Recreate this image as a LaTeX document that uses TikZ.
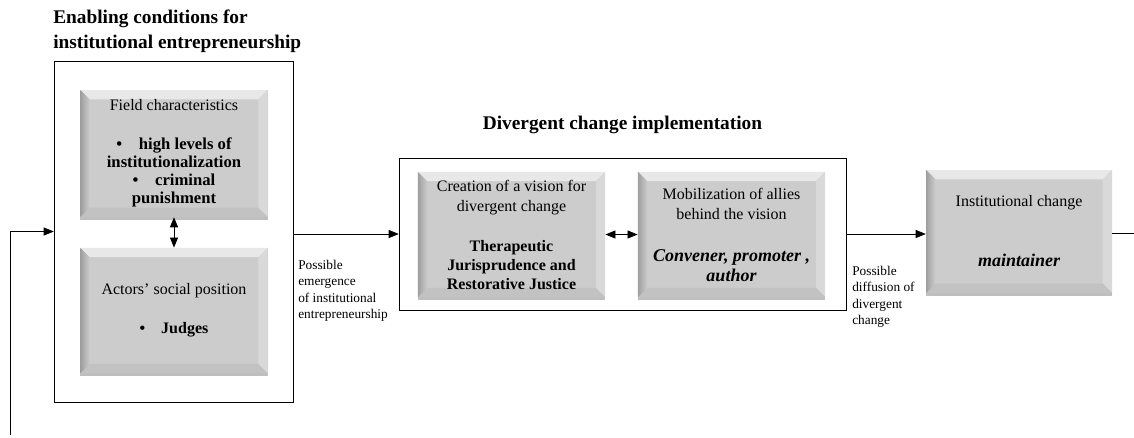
\documentclass[tikz,border=0pt]{standalone}
\usepackage{fontspec}
\setmainfont{Liberation Serif}
\usetikzlibrary{arrows.meta,shadows}

\colorlet{bevface}{black!20}
\colorlet{bevtop}{black!9}
\colorlet{bevright}{black!15}
\colorlet{bevbottom}{black!24}
\newcommand{\bolditfont}{\bfseries\itshape\fontsize{13.5}{15}\selectfont}

\begin{document}
\begin{tikzpicture}[
		x=0.75pt, y=-0.75pt,
		thin,
		>={Triangle[length=7.5pt,width=6pt]},
		outerbox/.style={draw,inner sep=0pt},
		bevel/.style={fill=bevface, minimum width=140.5pt, minimum height=94pt,
			inner sep=2pt, align=center, font=\fontsize{12}{15}\selectfont,
			drop shadow={shadow xshift=0pt,shadow yshift=-2pt,opacity=0.25,fill=black},
			path picture={
				\coordinate (pnw) at (path picture bounding box.north west);
				\coordinate (pse) at (path picture bounding box.south east);
				\fill[bevtop] (pnw) -- (pnw-|pse) -- ([shift={(-7pt,-7pt)}]pnw-|pse)
					-- ([shift={(7pt,-7pt)}]pnw) -- cycle;
				\fill[bevright] (pnw-|pse) -- (pse) -- ([shift={(-7pt,7pt)}]pse)
					-- ([shift={(-7pt,-7pt)}]pnw-|pse) -- cycle;
				\fill[bevbottom] (pse) -- (pse-|pnw) -- ([shift={(7pt,7pt)}]pse-|pnw)
					-- ([shift={(-7pt,7pt)}]pse) -- cycle;
				\shade[left color=black!38, right color=bevface] (pnw) -- ([shift={(7pt,-7pt)}]pnw)
					-- ([shift={(7pt,7pt)}]pse-|pnw) -- (pse-|pnw) -- cycle;
			}},
		heading/.style={font=\bfseries\fontsize{14.5}{18.75}\selectfont, inner sep=0pt},
		note/.style={font=\fontsize{10}{12.2}\selectfont, align=left, anchor=north west, inner sep=0pt}
	]
		\useasboundingbox (0,0) rectangle (1134,437);

		% Headings
		\node[heading, align=left, anchor=north west] (enabhead) at (53,10)
			{Enabling conditions for\\institutional entrepreneurship};
		\node[heading] (divhead) at (622.5,125) {Divergent change implementation};

		% Outer boxes
		\node[outerbox, minimum width=179.25pt, minimum height=255.75pt] (enabling) at (173.5,231.5) {};
		\node[outerbox, minimum width=335.25pt, minimum height=114pt] (divergent) at (622.5,234) {};

		% Bevelled boxes
		\node[bevel, minimum height=95.25pt] (fieldchar) at (174,153.5)
			{Field characteristics\\[14.25pt]
			{\bfseries\fontsize{12.5}{13.5}\selectfont \textbullet\quad high levels of}\\[-1.5pt]
			{\bfseries\fontsize{12.5}{13.5}\selectfont institutionalization}\\[-1.5pt]
			{\bfseries\fontsize{12.5}{13.5}\selectfont \textbullet\quad criminal}\\[-1.5pt]
			{\bfseries\fontsize{12.5}{13.5}\selectfont punishment}};
		\node[bevel] (actors) at (174,310.5)
			{Actors’ social position\\[14.25pt]
			{\bfseries \textbullet\quad Judges}};
		\node[bevel] (vision) at (511.5,234.5)
			{Creation of a vision for\\divergent change\\[15pt]
			{\bfseries Therapeutic}\\[-0.75pt]
			{\bfseries Jurisprudence and}\\[-0.75pt]
			{\bfseries Restorative Justice}};
		\node[bevel] (allies) at (731.5,234.5)
			{Mobilization of allies\\behind the vision\\[16.5pt]
			{\bolditfont Convener, promoter ,}\\
			{\bolditfont author}};
		\node[bevel, minimum width=139.5pt, minimum height=92.25pt] (instchange) at (1019,231.5)
			{Institutional change\\[30pt]
			{\bolditfont maintainer}};

		% Notes
		\node[note] (emergence) at (298,260)
			{Possible\\emergence\\of institutional\\entrepreneurship};
		\node[note] (diffusion) at (852,266)
			{Possible\\diffusion of\\divergent\\change};

		% Connectors
		\coordinate (fbstart) at (10,435);
		\coordinate (outend) at (1134,233);
		\draw[<->, semithick] (fieldchar.south) -- (actors.north);
		\draw[<->, semithick] (vision.east) -- (allies.west);
		\draw[->] (enabling.east |- divergent.west) -- (divergent.west);
		\draw[->] (divergent.east) -- (divergent.east -| instchange.west);
		\draw (instchange.east |- outend) -- (outend);
		\draw[->] (fbstart) |- (enabling.west);
	\end{tikzpicture}
\end{document}
